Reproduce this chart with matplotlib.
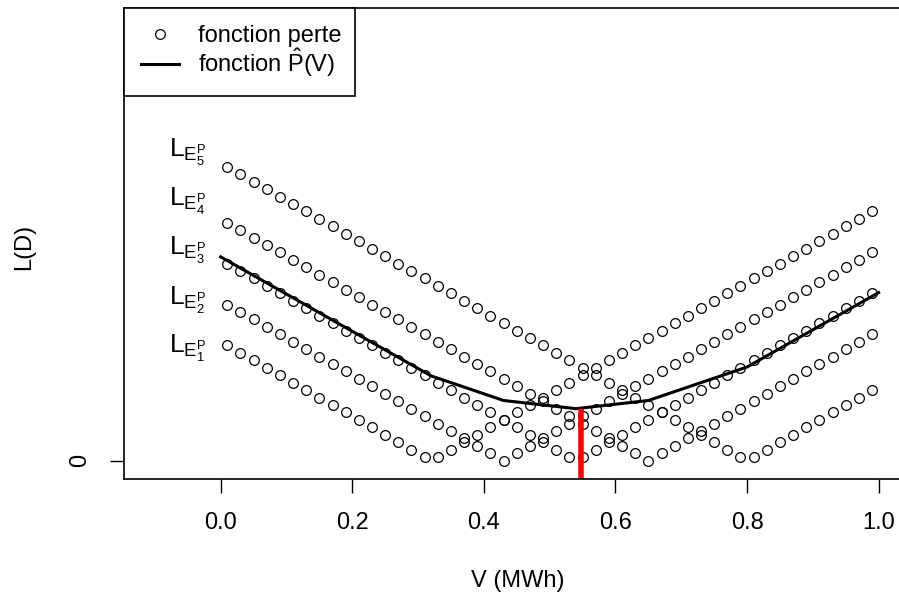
import numpy as np
import matplotlib
matplotlib.use('Agg')
import matplotlib.pyplot as plt

plt.rcParams['font.family'] = ['Liberation Sans', 'DejaVu Sans']
plt.rcParams['mathtext.fontset'] = 'custom'
plt.rcParams['mathtext.rm'] = 'Liberation Sans'
plt.rcParams['mathtext.it'] = 'Liberation Sans:italic'
plt.rcParams['mathtext.bf'] = 'Liberation Sans:bold'

# Volumes V (MWh) des points
v = [0.01, 0.03, 0.05, 0.07, 0.09, 0.11, 0.13, 0.15, 0.17, 0.19,
     0.21, 0.23, 0.25, 0.27, 0.29, 0.31, 0.33, 0.35, 0.37, 0.39,
     0.41, 0.43, 0.45, 0.47, 0.49, 0.51, 0.53, 0.55, 0.57, 0.59,
     0.61, 0.63, 0.65, 0.67, 0.69, 0.71, 0.73, 0.75, 0.77, 0.79,
     0.81, 0.83, 0.85, 0.87, 0.89, 0.91, 0.93, 0.95, 0.97, 0.99]

# Fonctions perte L_E1 ... L_E5
loss_e1 = [0.31, 0.29, 0.27, 0.25, 0.23, 0.21, 0.19, 0.17, 0.15, 0.13,
           0.11, 0.09, 0.07, 0.05, 0.03, 0.01, 0.01, 0.03, 0.05, 0.07,
           0.09, 0.11, 0.13, 0.15, 0.17, 0.19, 0.21, 0.23, 0.25, 0.27,
           0.29, 0.31, 0.33, 0.35, 0.37, 0.39, 0.41, 0.43, 0.45, 0.47,
           0.49, 0.51, 0.53, 0.55, 0.57, 0.59, 0.61, 0.63, 0.65, 0.67]
loss_e2 = [0.42, 0.40, 0.38, 0.36, 0.34, 0.32, 0.30, 0.28, 0.26, 0.24,
           0.22, 0.20, 0.18, 0.16, 0.14, 0.12, 0.10, 0.08, 0.06, 0.04,
           0.02, 0.00, 0.02, 0.04, 0.06, 0.08, 0.10, 0.12, 0.14, 0.16,
           0.18, 0.20, 0.22, 0.24, 0.26, 0.28, 0.30, 0.32, 0.34, 0.36,
           0.38, 0.40, 0.42, 0.44, 0.46, 0.48, 0.50, 0.52, 0.54, 0.56]
loss_e3 = [0.53, 0.51, 0.49, 0.47, 0.45, 0.43, 0.41, 0.39, 0.37, 0.35,
           0.33, 0.31, 0.29, 0.27, 0.25, 0.23, 0.21, 0.19, 0.17, 0.15,
           0.13, 0.11, 0.09, 0.07, 0.05, 0.03, 0.01, 0.01, 0.03, 0.05,
           0.07, 0.09, 0.11, 0.13, 0.15, 0.17, 0.19, 0.21, 0.23, 0.25,
           0.27, 0.29, 0.31, 0.33, 0.35, 0.37, 0.39, 0.41, 0.43, 0.45]
loss_e4 = [0.64, 0.62, 0.60, 0.58, 0.56, 0.54, 0.52, 0.50, 0.48, 0.46,
           0.44, 0.42, 0.40, 0.38, 0.36, 0.34, 0.32, 0.30, 0.28, 0.26,
           0.24, 0.22, 0.20, 0.18, 0.16, 0.14, 0.12, 0.10, 0.08, 0.06,
           0.04, 0.02, 0.00, 0.02, 0.04, 0.06, 0.08, 0.10, 0.12, 0.14,
           0.16, 0.18, 0.20, 0.22, 0.24, 0.26, 0.28, 0.30, 0.32, 0.34]
loss_e5 = [0.79, 0.77, 0.75, 0.73, 0.71, 0.69, 0.67, 0.65, 0.63, 0.61,
           0.59, 0.57, 0.55, 0.53, 0.51, 0.49, 0.47, 0.45, 0.43, 0.41,
           0.39, 0.37, 0.35, 0.33, 0.31, 0.29, 0.27, 0.25, 0.23, 0.21,
           0.19, 0.17, 0.15, 0.13, 0.11, 0.09, 0.07, 0.05, 0.03, 0.01,
           0.01, 0.03, 0.05, 0.07, 0.09, 0.11, 0.13, 0.15, 0.17, 0.19]
losses = [loss_e1, loss_e2, loss_e3, loss_e4, loss_e5]

# Fonction P^(V) : sommets de la courbe
v_p = [0.0, 0.32, 0.43, 0.54, 0.65, 0.80, 1.0]
p_hat = [0.548, 0.228, 0.162, 0.140, 0.162, 0.252, 0.452]

# Optimum
v_opt = 0.547
p_opt = 0.140

# Etiquettes des courbes
lab_names = [r'$\mathrm{L}_{\mathrm{E}_{%d}^{\mathrm{P}}}$' % k for k in range(1, 6)]
lab_y = [0.301, 0.430, 0.564, 0.697, 0.828]

fig = plt.figure(figsize=(8.99, 6.01), dpi=100)
ax = fig.add_axes([0.1379, 0.2030, 0.872, 0.7837])

for i, vals in enumerate(losses):
    ax.plot(v, vals, 'o', mfc='none', mec='black', ms=7, mew=0.9,
            label='fonction perte' if i == 0 else None)

ax.plot(v_p, p_hat, color='black', lw=2.2, label=r'fonction $\hat{\mathrm{P}}\mathrm{(V)}$')
ax.vlines(v_opt, -0.2, p_opt, color='red', lw=4)

for name, y in zip(lab_names, lab_y):
    ax.text(-0.051, y, name, ha='center', va='center', fontsize=19)

ax.set_xlim(-0.147, 1.0445)
ax.set_ylim(-0.049, 1.217)
ax.set_xticks([0.0, 0.2, 0.4, 0.6, 0.8, 1.0])
ax.set_xticklabels(['0.0', '0.2', '0.4', '0.6', '0.8', '1.0'])
ax.set_yticks([0])
ax.set_yticklabels(['0'], rotation=90, va='center')
ax.tick_params(direction='out', length=10, width=1, labelsize=17, pad=14)
for s in ax.spines.values():
    s.set_linewidth(1.2)

# légende en haut à gauche, largeur fixe
leg = ax.legend(loc='upper left', bbox_to_anchor=(0, 0, 231 / 784, 1), mode='expand',
                borderaxespad=0, fontsize=17, frameon=True, fancybox=False,
                framealpha=1, edgecolor='black', borderpad=0.72, handlelength=1.6,
                handletextpad=0.8, labelspacing=0.0, numpoints=1)
leg.get_frame().set_linewidth(1.2)

fig.text(518 / 899, 1 - 581 / 601, 'V (MWh)', ha='center', va='center', fontsize=17)
fig.text(24 / 899, 1 - 247 / 601, 'L(D)', ha='center', va='center', fontsize=17, rotation=90)

fig.savefig('out.png', dpi=100)
